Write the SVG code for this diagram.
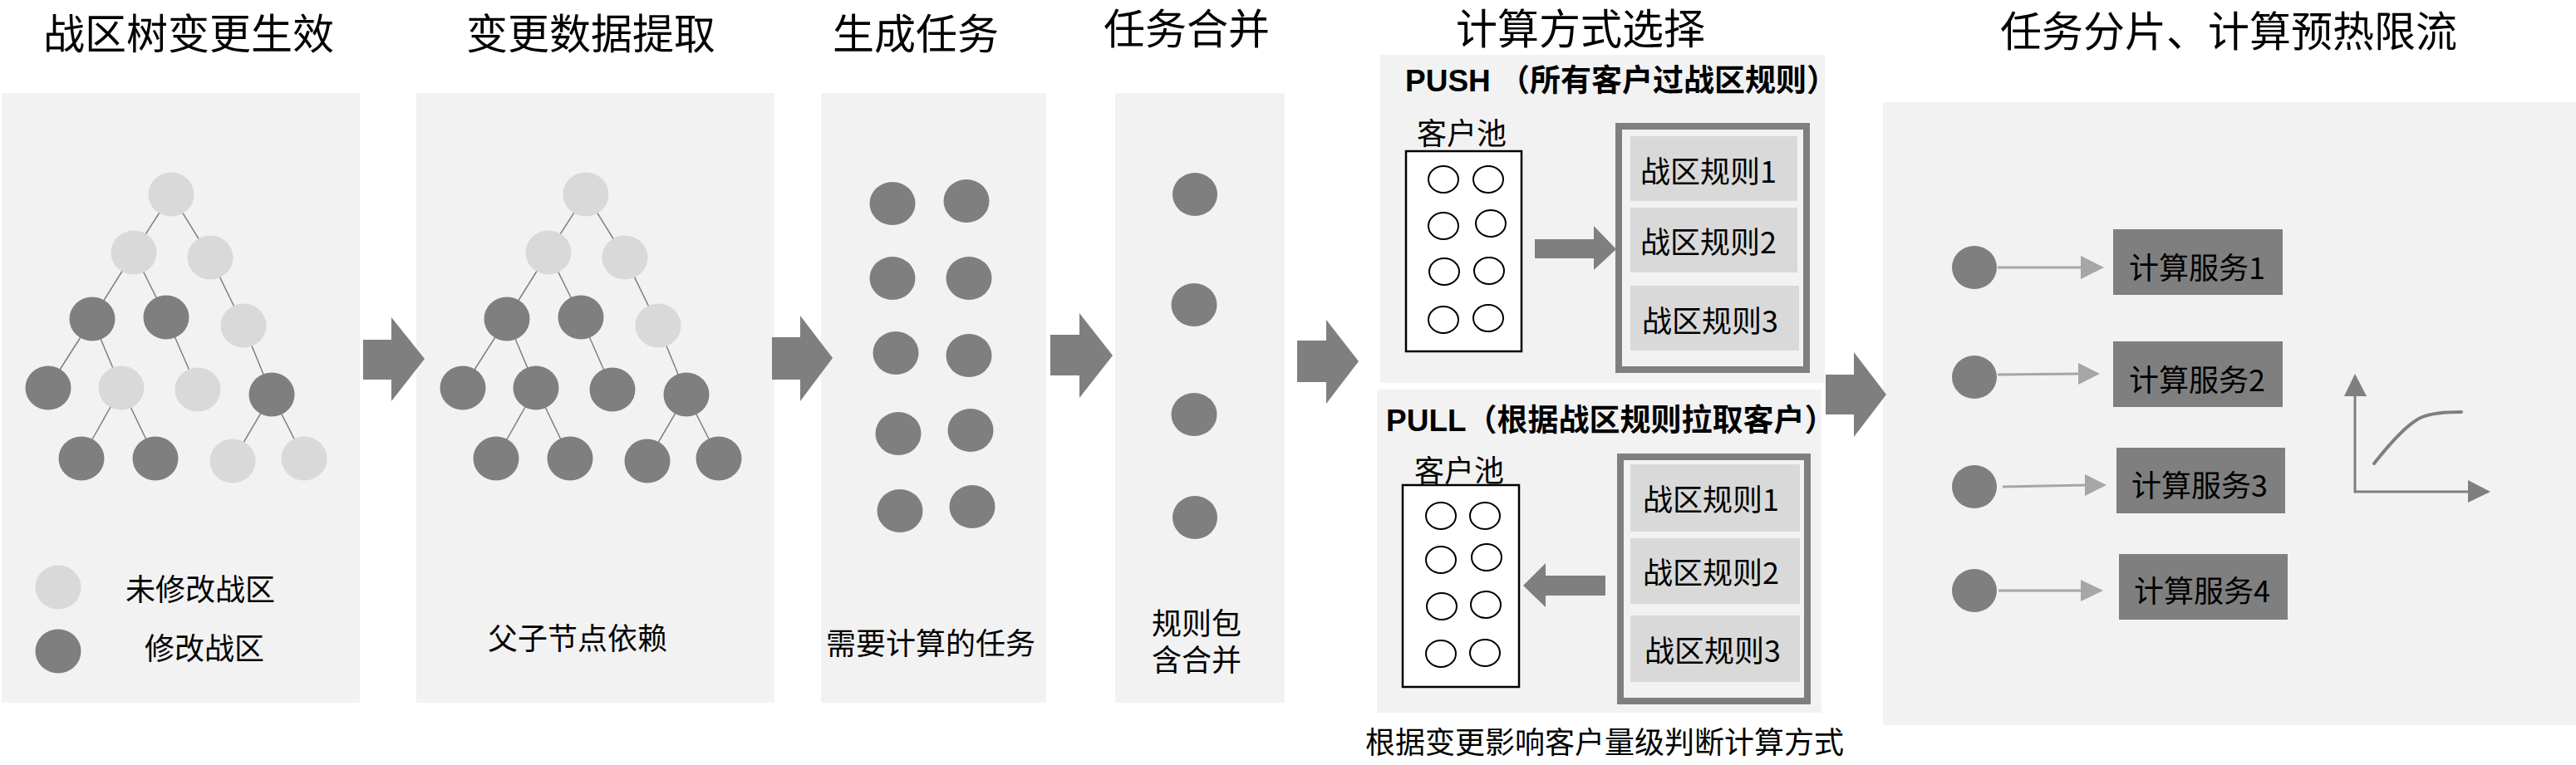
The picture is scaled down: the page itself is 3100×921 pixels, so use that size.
<svg xmlns="http://www.w3.org/2000/svg" width="3100" height="921" viewBox="0 0 3100 921">
<style>
text{font-family:"Noto Sans CJK SC","Liberation Sans",sans-serif;fill:#000}
.t50{font-size:50px}
.t36{font-size:36px}
.hb{font-family:"Liberation Sans","Noto Sans CJK SC",sans-serif;font-size:37px;font-weight:bold}
.panel{fill:#f2f2f2}
.dk{fill:#7f7f7f}
.lt{fill:#d9d9d9}
.edge{stroke:#7f7f7f;stroke-width:1.5;fill:none}
.big{fill:#7f7f7f}
.pool{fill:#fff;stroke:#000;stroke-width:2.5}
.po{fill:#fff;stroke:#000;stroke-width:2}
.frame{fill:#f2f2f2;stroke:#7f7f7f;stroke-width:8}
.rule{fill:#d9d9d9}
.svc{fill:#7f7f7f}
.thin{stroke:#a6a6a6;stroke-width:3;fill:none}
.th{fill:#a6a6a6}
.axis{stroke:#7f7f7f;stroke-width:3;fill:none}
.curve{stroke:#7f7f7f;stroke-width:4;fill:none;stroke-linecap:round}
</style>
<rect width="3100" height="921" fill="#fff"/>

<!-- titles -->
<g id="titles">
<text class="t50" x="52" y="59">战区树变更生效</text>
<text class="t50" x="561" y="59">变更数据提取</text>
<text class="t50" x="1002" y="59">生成任务</text>
<text class="t50" x="1328" y="53">任务合并</text>
<text class="t50" x="1752" y="53">计算方式选择</text>
<text class="t50" x="2407" y="56">任务分片、计算预热限流</text>
</g>

<!-- panels -->
<g id="panel1"><rect class="panel" x="2" y="112" width="431" height="734"/></g>
<g id="panel2"><rect class="panel" x="501" y="112" width="431" height="734"/></g>
<g id="panel3"><rect class="panel" x="988" y="112" width="271" height="734"/></g>
<g id="panel4"><rect class="panel" x="1342" y="112" width="204" height="734"/></g>
<g id="panel-push"><rect class="panel" x="1661" y="66" width="535" height="395"/></g>
<g id="panel-pull"><rect class="panel" x="1657" y="469" width="535" height="389"/></g>
<g id="panel6"><rect class="panel" x="2266" y="123" width="834" height="750"/></g>

<!-- connectors -->
<g id="connectors">
  <g id="tree1-edges" class="edge">
    <line x1="206" y1="234" x2="161" y2="304"/>
    <line x1="206" y1="234" x2="253" y2="310"/>
    <line x1="161" y1="304" x2="111" y2="384"/>
    <line x1="161" y1="304" x2="200" y2="382"/>
    <line x1="253" y1="310" x2="293" y2="392"/>
    <line x1="111" y1="384" x2="58" y2="467"/>
    <line x1="111" y1="384" x2="146" y2="467"/>
    <line x1="200" y1="382" x2="238" y2="469"/>
    <line x1="293" y1="392" x2="327" y2="475"/>
    <line x1="146" y1="467" x2="98" y2="552"/>
    <line x1="146" y1="467" x2="187" y2="552"/>
    <line x1="327" y1="475" x2="280" y2="555"/>
    <line x1="327" y1="475" x2="366" y2="552"/>
  </g>
  <g id="tree2-edges" class="edge" transform="translate(499,0)">
    <line x1="206" y1="234" x2="161" y2="304"/>
    <line x1="206" y1="234" x2="253" y2="310"/>
    <line x1="161" y1="304" x2="111" y2="384"/>
    <line x1="161" y1="304" x2="200" y2="382"/>
    <line x1="253" y1="310" x2="293" y2="392"/>
    <line x1="111" y1="384" x2="58" y2="467"/>
    <line x1="111" y1="384" x2="146" y2="467"/>
    <line x1="200" y1="382" x2="238" y2="469"/>
    <line x1="293" y1="392" x2="327" y2="475"/>
    <line x1="146" y1="467" x2="98" y2="552"/>
    <line x1="146" y1="467" x2="187" y2="552"/>
    <line x1="327" y1="475" x2="280" y2="555"/>
    <line x1="327" y1="475" x2="366" y2="552"/>
  </g>
  <path id="arrow1" class="big" d="M437,409 H471 V382 L511,432 L471,483 V457 H437 Z"/>
  <path id="arrow2" class="big" d="M929,406 H963 V380 L1002,431 L963,483 V457 H929 Z"/>
  <path id="arrow3" class="big" d="M1264,403 H1299 V377 L1339,428 L1299,479 V452 H1264 Z"/>
  <path id="arrow4" class="big" d="M1561,410 H1596 V385 L1635,435 L1596,486 V460 H1561 Z"/>
  <path id="arrow5" class="big" d="M2197,451 H2231 V424 L2270,475 L2231,526 V499 H2197 Z"/>
  <path id="arrow-push" class="big" d="M1847,288 H1918 V272 L1945,300 L1918,325 V311 H1847 Z"/>
  <path id="arrow-pull" class="big" d="M1932,693 H1860 V678 L1833,705 L1860,731 V717 H1932 Z"/>
  <g id="svc-arrows">
    <line class="thin" x1="2404" y1="322" x2="2506" y2="322"/>
    <path class="th" d="M2504,308 L2532,322 L2504,336 Z"/>
    <line class="thin" x1="2404" y1="451" x2="2503" y2="450"/>
    <path class="th" d="M2501,437 L2527,450 L2501,463 Z"/>
    <line class="thin" x1="2410" y1="586" x2="2511" y2="584"/>
    <path class="th" d="M2509,571 L2535,584 L2509,597 Z"/>
    <line class="thin" x1="2405" y1="711" x2="2506" y2="711"/>
    <path class="th" d="M2504,698 L2531,711 L2504,724 Z"/>
  </g>
</g>

<!-- tree 1 -->
<g id="tree1">
  <ellipse id="t1n0" class="lt" cx="206" cy="234" rx="27.5" ry="26.5"/>
  <ellipse id="t1n1" class="lt" cx="161" cy="304" rx="27.5" ry="26.5"/>
  <ellipse id="t1n2" class="lt" cx="253" cy="310" rx="27.5" ry="26.5"/>
  <ellipse id="t1n3" class="dk" cx="111" cy="384" rx="27.5" ry="26.5"/>
  <ellipse id="t1n4" class="dk" cx="200" cy="382" rx="27.5" ry="26.5"/>
  <ellipse id="t1n5" class="lt" cx="293" cy="392" rx="27.5" ry="26.5"/>
  <ellipse id="t1n6" class="dk" cx="58" cy="467" rx="27.5" ry="26.5"/>
  <ellipse id="t1n7" class="lt" cx="146" cy="467" rx="27.5" ry="26.5"/>
  <ellipse id="t1n8" class="lt" cx="238" cy="469" rx="27.5" ry="26.5"/>
  <ellipse id="t1n9" class="dk" cx="327" cy="475" rx="27.5" ry="26.5"/>
  <ellipse id="t1n10" class="dk" cx="98" cy="552" rx="27.5" ry="26.5"/>
  <ellipse id="t1n11" class="dk" cx="187" cy="552" rx="27.5" ry="26.5"/>
  <ellipse id="t1n12" class="lt" cx="280" cy="555" rx="27.5" ry="26.5"/>
  <ellipse id="t1n13" class="lt" cx="366" cy="552" rx="27.5" ry="26.5"/>
</g>
<g id="legend">
  <ellipse class="lt" cx="70" cy="707" rx="27.5" ry="26.5"/>
  <text class="t36" x="151" y="723">未修改战区</text>
  <ellipse class="dk" cx="70" cy="784" rx="27.5" ry="26.5"/>
  <text class="t36" x="174" y="794">修改战区</text>
</g>

<!-- tree 2 -->
<g id="tree2" transform="translate(499,0)">
  <ellipse id="t2n0" class="lt" cx="206" cy="234" rx="27.5" ry="26.5"/>
  <ellipse id="t2n1" class="lt" cx="161" cy="304" rx="27.5" ry="26.5"/>
  <ellipse id="t2n2" class="lt" cx="253" cy="310" rx="27.5" ry="26.5"/>
  <ellipse id="t2n3" class="dk" cx="111" cy="384" rx="27.5" ry="26.5"/>
  <ellipse id="t2n4" class="dk" cx="200" cy="382" rx="27.5" ry="26.5"/>
  <ellipse id="t2n5" class="lt" cx="293" cy="392" rx="27.5" ry="26.5"/>
  <ellipse id="t2n6" class="dk" cx="58" cy="467" rx="27.5" ry="26.5"/>
  <ellipse id="t2n7" class="dk" cx="146" cy="467" rx="27.5" ry="26.5"/>
  <ellipse id="t2n8" class="dk" cx="238" cy="469" rx="27.5" ry="26.5"/>
  <ellipse id="t2n9" class="dk" cx="327" cy="475" rx="27.5" ry="26.5"/>
  <ellipse id="t2n10" class="dk" cx="98" cy="552" rx="27.5" ry="26.5"/>
  <ellipse id="t2n11" class="dk" cx="187" cy="552" rx="27.5" ry="26.5"/>
  <ellipse id="t2n12" class="dk" cx="280" cy="555" rx="27.5" ry="26.5"/>
  <ellipse id="t2n13" class="dk" cx="366" cy="552" rx="27.5" ry="26.5"/>
</g>
<g id="label2"><text class="t36" x="587" y="782">父子节点依赖</text></g>

<!-- tasks -->
<g id="tasks">
  <ellipse class="dk" cx="1074" cy="245" rx="27.5" ry="26"/>
  <ellipse class="dk" cx="1163" cy="242" rx="27.5" ry="26"/>
  <ellipse class="dk" cx="1074" cy="335" rx="27.5" ry="26"/>
  <ellipse class="dk" cx="1166" cy="335" rx="27.5" ry="26"/>
  <ellipse class="dk" cx="1078" cy="425" rx="27.5" ry="26"/>
  <ellipse class="dk" cx="1166" cy="428" rx="27.5" ry="26"/>
  <ellipse class="dk" cx="1081" cy="522" rx="27.5" ry="26"/>
  <ellipse class="dk" cx="1168" cy="518" rx="27.5" ry="26"/>
  <ellipse class="dk" cx="1083" cy="615" rx="27.5" ry="26"/>
  <ellipse class="dk" cx="1170" cy="610" rx="27.5" ry="26"/>
  <text class="t36" x="994" y="788">需要计算的任务</text>
</g>

<!-- merged -->
<g id="merged">
  <ellipse class="dk" cx="1438" cy="234" rx="27" ry="26"/>
  <ellipse class="dk" cx="1437" cy="367" rx="27.5" ry="26"/>
  <ellipse class="dk" cx="1437" cy="499" rx="27.5" ry="26"/>
  <ellipse class="dk" cx="1438" cy="623" rx="27" ry="26"/>
  <text class="t36"><tspan x="1386" y="764">规则包</tspan><tspan x="1386" y="808">含合并</tspan></text>
</g>

<!-- PUSH -->
<g id="push">
  <text class="hb" x="1691" y="110">PUSH （所有客户过战区规则）</text>
  <text class="t36" x="1705" y="174">客户池</text>
  <rect class="pool" x="1692" y="182" width="139" height="241"/>
  <ellipse class="po" cx="1737" cy="216" rx="18" ry="16"/>
  <ellipse class="po" cx="1791" cy="216" rx="18" ry="16"/>
  <ellipse class="po" cx="1737" cy="272" rx="18" ry="16"/>
  <ellipse class="po" cx="1794" cy="269" rx="18" ry="16"/>
  <ellipse class="po" cx="1738" cy="327" rx="18" ry="16"/>
  <ellipse class="po" cx="1792" cy="326" rx="18" ry="16"/>
  <ellipse class="po" cx="1737" cy="385" rx="18" ry="16"/>
  <ellipse class="po" cx="1791" cy="383" rx="18" ry="16"/>
  <rect class="frame" x="1948" y="152" width="226" height="293"/>
  <rect class="rule" x="1962" y="164" width="201" height="78"/>
  <text class="t36" x="1974" y="220">战区规则1</text>
  <rect class="rule" x="1962" y="250" width="201" height="78"/>
  <text class="t36" x="1974" y="305">战区规则2</text>
  <rect class="rule" x="1962" y="344" width="203" height="78"/>
  <text class="t36" x="1976" y="400">战区规则3</text>
</g>

<!-- PULL -->
<g id="pull">
  <text class="hb" x="1668" y="519">PULL（根据战区规则拉取客户）</text>
  <text class="t36" x="1702" y="580">客户池</text>
  <rect class="pool" x="1688" y="584" width="140" height="243"/>
  <ellipse class="po" cx="1734" cy="621" rx="18" ry="16"/>
  <ellipse class="po" cx="1787" cy="621" rx="18" ry="16"/>
  <ellipse class="po" cx="1734" cy="674" rx="18" ry="16"/>
  <ellipse class="po" cx="1789" cy="671" rx="18" ry="16"/>
  <ellipse class="po" cx="1735" cy="730" rx="18" ry="16"/>
  <ellipse class="po" cx="1788" cy="728" rx="18" ry="16"/>
  <ellipse class="po" cx="1734" cy="787" rx="18" ry="16"/>
  <ellipse class="po" cx="1787" cy="786" rx="18" ry="16"/>
  <rect class="frame" x="1950" y="550" width="225" height="294"/>
  <rect class="rule" x="1962" y="559" width="204" height="81"/>
  <text class="t36" x="1977" y="615">战区规则1</text>
  <rect class="rule" x="1962" y="648" width="204" height="79"/>
  <text class="t36" x="1977" y="703">战区规则2</text>
  <rect class="rule" x="1962" y="741" width="204" height="80"/>
  <text class="t36" x="1979" y="797">战区规则3</text>
</g>
<g id="note"><text class="t36" x="1643" y="907">根据变更影响客户量级判断计算方式</text></g>

<!-- services -->
<g id="svc1">
  <ellipse class="dk" cx="2376" cy="322" rx="27" ry="26"/>
  <rect class="svc" x="2543" y="276" width="204" height="79"/>
  <text class="t36" x="2562" y="336">计算服务1</text>
</g>
<g id="svc2">
  <ellipse class="dk" cx="2376" cy="454" rx="27" ry="26"/>
  <rect class="svc" x="2543" y="411" width="204" height="79"/>
  <text class="t36" x="2562" y="471">计算服务2</text>
</g>
<g id="svc3">
  <ellipse class="dk" cx="2376" cy="586" rx="27" ry="26"/>
  <rect class="svc" x="2547" y="539" width="203" height="79"/>
  <text class="t36" x="2565" y="598">计算服务3</text>
</g>
<g id="svc4">
  <ellipse class="dk" cx="2376" cy="711" rx="27" ry="26"/>
  <rect class="svc" x="2550" y="667" width="203" height="79"/>
  <text class="t36" x="2568" y="725">计算服务4</text>
</g>

<!-- chart -->
<g id="chart">
  <polyline class="axis" points="2834,474 2834,592 2972,592"/>
  <path class="big" d="M2821,477 L2834,450 L2848,477 Z"/>
  <path class="big" d="M2970,578 L2997,592 L2970,605 Z"/>
  <path class="curve" d="M2857,558 Q2895,510 2915,502 Q2930,496 2962,496"/>
</g>
</svg>
